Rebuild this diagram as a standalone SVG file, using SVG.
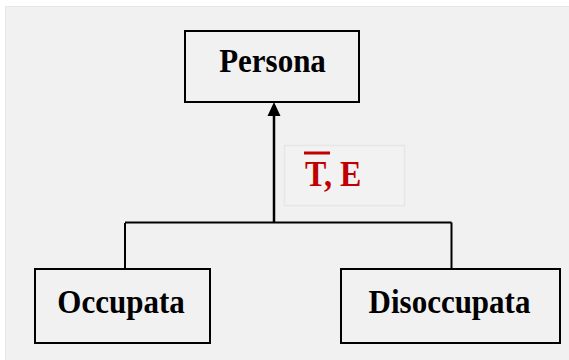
<svg xmlns="http://www.w3.org/2000/svg" width="569" height="360" viewBox="0 0 569 360">
  <style>
    .box { fill: #f1f1f1; stroke: #000; stroke-width: 2; }
    .name { font-family: "Liberation Serif", "Times New Roman", serif; font-weight: bold; font-size: 31px; fill: #000; text-anchor: middle; }
    .wire { fill: none; stroke: #000; stroke-width: 2; }
    .tag { font-family: "Liberation Serif", "Times New Roman", serif; font-weight: bold; font-size: 32px; fill: #c00000; }
  </style>

  <!-- canvas -->
  <rect x="0" y="0" width="569" height="360" fill="#ffffff"/>
  <rect x="5.5" y="6.5" width="570" height="360" fill="#f1f1f1" stroke="#e6e6e6" stroke-width="1"/>

  <!-- connectors -->
  <g id="connectors">
    <path class="wire" d="M125,269 V223 M125,222.5 H451.5 M451.5,222.5 V269"/>
    <line x1="274" y1="222" x2="274" y2="116" stroke="#000" stroke-width="2.5"/>
    <path d="M267.5,116 L274,102 L280.5,116 Z" fill="#000"/>
  </g>

  <!-- generalisation label: total, exclusive -->
  <g id="label">
    <rect x="284.5" y="145.5" width="120" height="60" fill="#f2f2f2" stroke="#e6e6e6" stroke-width="1.5"/>
    <rect x="304" y="151.5" width="26" height="3" fill="#c00000"/>
    <text class="tag" transform="translate(305,186) scale(1,1.1)">T, E</text>
  </g>

  <g id="persona">
    <rect class="box" x="185" y="31" width="174" height="71"/>
    <text class="name" transform="translate(272.5,72) scale(1,1.08)">Persona</text>
  </g>

  <g id="occupata">
    <rect class="box" x="35" y="269" width="175" height="74"/>
    <text class="name" transform="translate(121,313) scale(1,1.08)">Occupata</text>
  </g>

  <g id="disoccupata">
    <rect class="box" x="341" y="269" width="219" height="74"/>
    <text class="name" transform="translate(449.5,313) scale(1,1.08)">Disoccupata</text>
  </g>
</svg>
